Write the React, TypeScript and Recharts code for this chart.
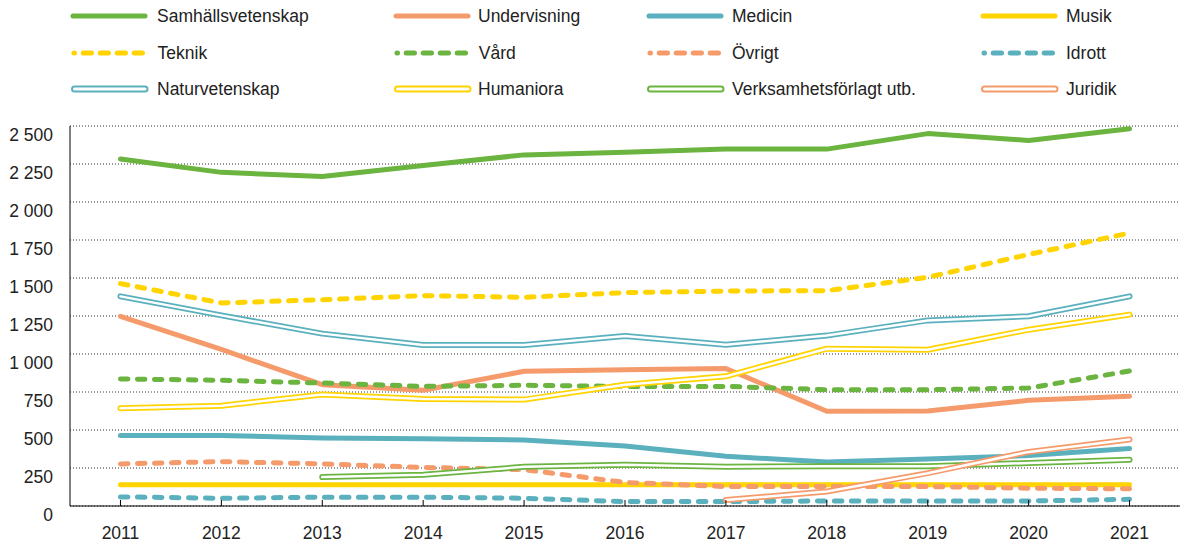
import React from 'react';
import { LineChart, Line, XAxis, YAxis, CartesianGrid } from 'recharts';

const years = ['2011', '2012', '2013', '2014', '2015', '2016', '2017', '2018', '2019', '2020', '2021'];
const samhallsvetenskap = [2283, 2195, 2168, 2240, 2310, 2328, 2348, 2348, 2450, 2405, 2482];
const undervisning = [1248, 1030, 798, 762, 886, 897, 905, 623, 625, 695, 722];
const medicin = [464, 464, 447, 442, 434, 394, 327, 290, 310, 332, 378];
const musik = [140, 140, 140, 140, 140, 140, 140, 140, 140, 140, 140];
const teknik = [1463, 1336, 1357, 1384, 1373, 1404, 1414, 1417, 1505, 1655, 1796];
const vard = [836, 827, 809, 787, 794, 787, 787, 765, 765, 776, 888];
const ovrigt = [277, 292, 277, 254, 239, 155, 128, 128, 128, 117, 113];
const idrott = [60, 51, 58, 58, 51, 29, 29, 33, 33, 33, 44];
const naturvetenskap = [1379, 1254, 1134, 1059, 1059, 1119, 1061, 1121, 1221, 1248, 1379];
const humaniora = [643, 660, 733, 704, 700, 798, 853, 1035, 1028, 1160, 1259];
const verksamhet = [null, null, 190, 205, 258, 272, 259, 261, 261, 283, 305];
const juridik = [null, null, null, null, null, null, 40, 95, 216, 356, 438];
const yTicks = [0, 250, 500, 750, 1000, 1250, 1500, 1750, 2000, 2250, 2500];

const GREEN = '#6ab43f';
const ORANGE = '#f59b6b';
const TEAL = '#5bb0be';
const YELLOW = '#ffd400';
const FONT = '"Liberation Sans", Arial, Helvetica, sans-serif';
const FS = 17.5;

type Kind = 'solid' | 'dashed' | 'double';
interface SeriesDef { key: string; name: string; color: string; kind: Kind; values: (number | null)[] }

const series: SeriesDef[] = [
  { key: 'samhall', name: 'Samhällsvetenskap', color: GREEN, kind: 'solid', values: samhallsvetenskap },
  { key: 'underv', name: 'Undervisning', color: ORANGE, kind: 'solid', values: undervisning },
  { key: 'medicin', name: 'Medicin', color: TEAL, kind: 'solid', values: medicin },
  { key: 'musik', name: 'Musik', color: YELLOW, kind: 'solid', values: musik },
  { key: 'teknik', name: ' Teknik', color: YELLOW, kind: 'dashed', values: teknik },
  { key: 'vard', name: ' Vård', color: GREEN, kind: 'dashed', values: vard },
  { key: 'ovrigt', name: 'Övrigt', color: ORANGE, kind: 'dashed', values: ovrigt },
  { key: 'idrott', name: 'Idrott', color: TEAL, kind: 'dashed', values: idrott },
  { key: 'natur', name: 'Naturvetenskap', color: TEAL, kind: 'double', values: naturvetenskap },
  { key: 'human', name: 'Humaniora', color: YELLOW, kind: 'double', values: humaniora },
  { key: 'verks', name: 'Verksamhetsförlagt utb.', color: GREEN, kind: 'double', values: verksamhet },
  { key: 'juridik', name: 'Juridik', color: ORANGE, kind: 'double', values: juridik },
];

const data = years.map((y, i) => {
  const row: Record<string, string | number | null> = { year: y };
  series.forEach((s) => { row[s.key] = s.values[i]; });
  return row;
});

const fmt = (v: number) => (v >= 1000 ? `${Math.floor(v / 1000)} ${String(v % 1000).padStart(3, '0')}` : String(v));

const YTick = (props: any) => {
  const { x, y, payload } = props;
  return (
    <text x={x - 17} y={y + 14.5} textAnchor="end" fontSize={FS} fill="#222" fontFamily={FONT}>
      {fmt(payload.value)}
    </text>
  );
};

const XTick = (props: any) => {
  const { x, y, payload } = props;
  return (
    <g>
      <line x1={x} x2={x} y1={y} y2={y - 6} stroke="#000" strokeWidth={1} />
      <text x={x} y={y + 32.5} textAnchor="middle" fontSize={FS} fill="#222" fontFamily={FONT}>
        {payload.value}
      </text>
    </g>
  );
};

const DASH = '7.5 9.5';

const Swatch = ({ s }: { s: SeriesDef }) => (
  <svg width={80} height={12} style={{ display: 'block' }}>
    {s.kind === 'solid' && <line x1={3} x2={75} y1={6} y2={6} stroke={s.color} strokeWidth={5} strokeLinecap="round" />}
    {s.kind === 'dashed' && (
      <line x1={4} x2={76} y1={6} y2={6} stroke={s.color} strokeWidth={5} strokeLinecap="round" strokeDasharray="8.3 8.7" strokeDashoffset={7.8} />
    )}
    {s.kind === 'double' && (
      <g>
        <line x1={4.5} x2={75} y1={6} y2={6} stroke={s.color} strokeWidth={7} strokeLinecap="round" />
        <line x1={4.5} x2={75} y1={6} y2={6} stroke="#fff" strokeWidth={3} strokeLinecap="round" />
      </g>
    )}
  </svg>
);

const colSwatchX = [70, 393, 646, 980];
const colTextX = [157, 478, 732, 1066];
const rowY = [16, 53, 89];

export default function App() {
  return (
    <div style={{ position: 'absolute', left: 0, top: 0, width: 1185, height: 544, background: '#fff', fontFamily: FONT }}>
      {series.map((s, i) => {
        const col = i % 4;
        const row = Math.floor(i / 4);
        return (
          <React.Fragment key={s.key}>
            <div style={{ position: 'absolute', left: colSwatchX[col], top: rowY[row] - 6 }}>
              <Swatch s={s} />
            </div>
            <div
              style={{
                position: 'absolute',
                left: colTextX[col] - (s.name.startsWith(' ') ? 4 : 0),
                top: rowY[row] - 11,
                fontSize: FS,
                lineHeight: '22px',
                color: '#222',
                whiteSpace: 'pre',
              }}
            >
              {s.name}
            </div>
          </React.Fragment>
        );
      })}
      <div style={{ position: 'absolute', left: 0, top: 0 }}>
        <LineChart width={1185} height={544} data={data} margin={{ top: 126, right: 5, bottom: 8, left: 0 }}>
          <CartesianGrid vertical={false} stroke="#333" strokeDasharray="1 2" strokeWidth={1} />
          <XAxis
            dataKey="year"
            scale="band"
            height={30}
            tickLine={false}
            tickSize={0}
            tickMargin={0}
            axisLine={{ stroke: '#000', strokeWidth: 1 }}
            tick={<XTick />}
            interval={0}
          />
          <YAxis
            width={70}
            domain={[0, 2500]}
            ticks={yTicks}
            tickLine={false}
            tickSize={0}
            tickMargin={0}
            axisLine={{ stroke: '#000', strokeWidth: 1 }}
            tick={<YTick />}
            interval={0}
          />
          {series.flatMap((s) => {
            if (s.kind === 'double') {
              return [
                <Line key={s.key + 'o'} dataKey={s.key} stroke={s.color} strokeWidth={6} strokeLinecap="round" strokeLinejoin="round" dot={false} activeDot={false} isAnimationActive={false} type="linear" />,
                <Line key={s.key + 'i'} dataKey={s.key} stroke="#fff" strokeWidth={2.5} strokeLinecap="round" strokeLinejoin="round" dot={false} activeDot={false} isAnimationActive={false} type="linear" />,
              ];
            }
            return [
              <Line
                key={s.key}
                dataKey={s.key}
                stroke={s.color}
                strokeWidth={5}
                strokeLinecap="round"
                strokeLinejoin="round"
                strokeDasharray={s.kind === 'dashed' ? DASH : undefined}
                dot={false}
                activeDot={false}
                isAnimationActive={false}
                type="linear"
              />,
            ];
          })}
        </LineChart>
      </div>
    </div>
  );
}
